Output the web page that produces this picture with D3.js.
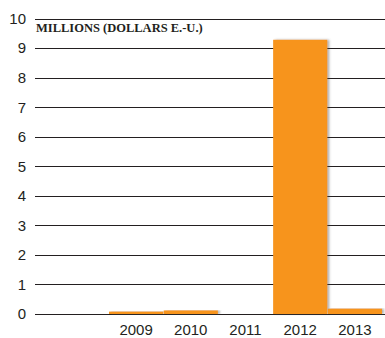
<!DOCTYPE html>
<html>
<head>
<meta charset="utf-8">
<script src="https://cdn.jsdelivr.net/npm/d3@7"></script>
<style>
  body { margin: 0; background: #fff; }
  svg { display: block; }
</style>
</head>
<body>
<div id="chart"></div>
<script>
// data
var years = ["2009", "2010", "2011", "2012", "2013"];
var values = [0.08, 0.12, 0, 9.28, 0.18];
var yTicks = [0, 1, 2, 3, 4, 5, 6, 7, 8, 9, 10];
var unitLabel = "MILLIONS (DOLLARS E.-U.)";

var width = 385, height = 338;

var svg = d3.select("#chart")
    .append("svg")
    .attr("width", width)
    .attr("height", height);

// soft grey shadow on the right side of the bars
var defs = svg.append("defs");
var f = defs.append("filter").attr("id", "shade")
    .attr("x", "-10%").attr("y", "-10%").attr("width", "130%").attr("height", "120%");
f.append("feDropShadow")
    .attr("dx", 2).attr("dy", 0).attr("stdDeviation", 1)
    .attr("flood-color", "#555").attr("flood-opacity", 0.45);

var y = d3.scaleLinear()
    .domain([0, 10])
    .range([314, 18.5]);

var x = d3.scaleBand()
    .domain(years)
    .range([109, 382])
    .paddingInner(0.01)
    .paddingOuter(0);

// gridlines
svg.append("g")
    .selectAll("line")
    .data(yTicks)
    .enter()
    .append("line")
    .attr("x1", 35)
    .attr("x2", width)
    .attr("y1", function(d) { return Math.round(y(d)) + 0.5; })
    .attr("y2", function(d) { return Math.round(y(d)) + 0.5; })
    .style("stroke", "#231f20")
    .style("stroke-width", 1.2);

// y labels
svg.append("g")
    .selectAll("text")
    .data(yTicks)
    .enter()
    .append("text")
    .attr("x", 26)
    .attr("y", function(d) { return y(d); })
    .attr("dy", "0.36em")
    .attr("text-anchor", "end")
    .style("font-family", "'Liberation Sans', Arial, sans-serif")
    .style("font-size", "15px")
    .style("fill", "#231f20")
    .text(function(d) { return d; });

// bars
svg.append("g")
    .selectAll("rect")
    .data(values)
    .enter()
    .append("rect")
    .attr("x", function(d, i) { return x(years[i]); })
    .attr("width", x.bandwidth())
    .attr("y", function(d) { return y(d); })
    .attr("height", function(d) { return y(0) - y(d); })
    .attr("filter", "url(#shade)")
    .style("fill", "#f7941d");

// x labels
svg.append("g")
    .selectAll("text")
    .data(years)
    .enter()
    .append("text")
    .attr("x", function(d) { return x(d) + x.bandwidth() / 2; })
    .attr("y", 335)
    .attr("text-anchor", "middle")
    .style("font-family", "'Liberation Sans', Arial, sans-serif")
    .style("font-size", "15px")
    .style("fill", "#231f20")
    .text(function(d) { return d; });

// unit title
svg.append("text")
    .attr("x", 36)
    .attr("y", 32)
    .style("font-family", "'Liberation Serif', 'Times New Roman', serif")
    .style("font-weight", "bold")
    .style("font-size", "12.5px")
    .style("fill", "#231f20")
    .text(unitLabel);
</script>
</body>
</html>
